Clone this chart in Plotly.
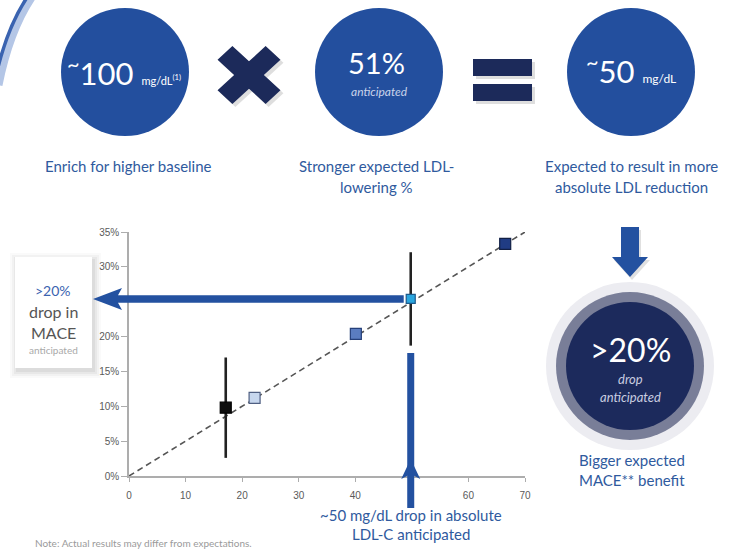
import plotly.graph_objects as go

# ---- data -------------------------------------------------------------
ldl_drop = [17.1, 22.2, 40.1, 49.8, 66.5]          # absolute LDL-C drop, mg/dL
mace_reduction = [9.8, 11.2, 20.4, 25.4, 33.3]     # MACE reduction, %
ci_half = [7.2, 0, 0, 6.7, 0]                      # +/- interval, %
trend_x = [0, 70]
trend_y = [0, 35]
x_ticks = [0, 10, 20, 30, 40, 50, 60, 70]
x_tick_text = ["0", "10", "20", "30", "40", "", "60", "70"]
y_ticks = [0, 5, 10, 15, 20, 30, 35]
y_tick_text = [f"{v}%" for v in y_ticks]

# ---- styling ----------------------------------------------------------
W, H = 739, 549
L, R, T, B = 129, 525, 232, 476       # plot area in pixels
ROYAL = "#234f9e"
NAVY = "#1c2a5a"
TEXT_BLUE = "#2f5a9e"
ARROW = "#2351a0"
FONT = "Lato"

marker_fill = ["#0e0e0e", "#c7d7ee", "#5b7dc1", "#2aa6de", "#203c84"]
marker_line = ["#000000", "#4f5f82", "#26407a", "#1d5a8c", "#111f45"]
marker_size = [11, 11, 11, 9, 11]


def fx(p):
    return (p - L) / (R - L)


def fy(p):
    return (B - p) / (B - T)


def path(points):
    s = "M " + " L ".join(f"{fx(x):.5f},{fy(y):.5f}" for x, y in points)
    return s + " Z"


shapes = []


def circle(cx, cy, r, color, layer="above"):
    shapes.append(dict(type="circle", xref="paper", yref="paper",
                       x0=fx(cx - r), x1=fx(cx + r), y0=fy(cy + r), y1=fy(cy - r),
                       fillcolor=color, line=dict(width=0), layer=layer))


def poly(points, color, layer="above"):
    shapes.append(dict(type="path", xref="paper", yref="paper", path=path(points),
                       fillcolor=color, line=dict(width=0), layer=layer))


def rect(x0, y0, x1, y1, color, layer="above"):
    shapes.append(dict(type="rect", xref="paper", yref="paper",
                       x0=fx(x0), x1=fx(x1), y0=fy(y1), y1=fy(y0),
                       fillcolor=color, line=dict(width=0), layer=layer))


# decorative arc in the top-left corner
for width, col, dx in [(9, "#b4c6e6", 1), (3.5, "#3a63b0", -3)]:
    shapes.append(dict(type="path", xref="paper", yref="paper",
                       path=f"M {fx(31 + dx):.5f},{fy(-4):.5f} Q {fx(8 + dx):.5f},{fy(30):.5f} {fx(-3 + dx):.5f},{fy(85):.5f}",
                       line=dict(color=col, width=width), layer="above"))

# three top circles
for cx in (125, 379, 631):
    circle(cx, 72, 64, ROYAL)

# multiplication sign
cx, cy, a, t = 249, 75, 34, 10.5
plus = [(t, a), (t, t), (a, t), (a, -t), (t, -t), (t, -a), (-t, -a), (-t, -t),
        (-a, -t), (-a, t), (-t, t), (-t, a)]
k = 0.7071
xpts = [(cx + (x - y) * k, cy + (x + y) * k * 0.92) for x, y in plus]
poly([(x + 3, y + 3) for x, y in xpts], "rgba(0,0,0,0.13)")
poly(xpts, NAVY)

# equals sign
for y0, y1 in [(59, 76), (84, 101)]:
    rect(476, y0 + 3, 535, y1 + 3, "rgba(0,0,0,0.13)")
    rect(473, y0, 532, y1, NAVY)

# down arrow on the right
down = [(621, 227), (639, 227), (639, 257), (648, 257), (630, 277), (612, 257), (621, 257)]
poly([(x + 2, y + 3) for x, y in down], "rgba(0,0,0,0.12)")
poly(down, ARROW)

# result badge
circle(630, 366, 84, "#ececf1")
circle(630, 366, 74, "#797e98")
circle(630, 366, 64, "#1c2a5c")

# callout box with soft shadow
for grow, alpha in [(7, 0.02), (5, 0.03), (3, 0.04), (1, 0.05)]:
    rect(15 - grow + 2, 257 - grow + 3, 92 + grow + 2, 368 + grow + 3, f"rgba(0,0,0,{alpha})")
rect(15, 257, 92, 368, "#ffffff")

# horizontal arrow from the highlighted point to the callout
ay = B - mace_reduction[3] * (B - T) / trend_y[1]
ax = L + ldl_drop[3] * (R - L) / trend_x[1]
poly([(ax - 7, ay - 3.8), (118, ay - 3.8), (122, ay - 11), (93, ay), (122, ay + 11),
      (118, ay + 3.8), (ax - 7, ay + 3.8)], ARROW)

# vertical arrow pointing up at the highlighted x value
poly([(ax - 3.5, 353), (ax + 3.5, 353), (ax + 3.5, 508), (ax - 3.5, 508)], ARROW)
poly([(ax, 459), (ax + 9.5, 479), (ax, 474), (ax - 9.5, 479)], ARROW)

# ---- traces ------------------------------------------------------------
fig = go.Figure()
fig.add_trace(go.Scatter(
    x=trend_x, y=trend_y, mode="lines",
    line=dict(color="#555555", width=1.6, dash="6px,4px"),
    hoverinfo="skip"))
fig.add_trace(go.Scatter(
    x=ldl_drop, y=mace_reduction, mode="markers",
    marker=dict(symbol="square", size=marker_size, color=marker_fill, opacity=1,
                line=dict(color=marker_line, width=1.2)),
    error_y=dict(type="data", array=ci_half, symmetric=True, width=0,
                 thickness=2.6, color="#222222"),
    hoverinfo="skip"))

# ---- text --------------------------------------------------------------
ann = []


def text(x, y, s, size, color, **kw):
    ann.append(dict(x=fx(x), y=fy(y), xref="paper", yref="paper", text=s,
                    showarrow=False, xanchor=kw.get("xanchor", "center"),
                    yanchor="middle", align=kw.get("align", "center"),
                    font=dict(family=FONT, size=size, color=color)))


text(124, 72, "<sup>~</sup>100 <span style='font-size:11px'>mg/dL<sup>(1)</sup></span>", 31, "#ffffff")
text(376, 62, "51%", 29, "#ffffff")
text(379, 91, "<i>anticipated</i>", 12, "#c9d3ea")
text(631, 69, "<sup>~</sup>50 <span style='font-size:12px'>mg/dL</span>", 31, "#ffffff")

text(128, 166, "Enrich for higher baseline", 15, TEXT_BLUE)
text(376, 166, "Stronger expected LDL-", 15, TEXT_BLUE)
text(376, 187, "lowering %", 15, TEXT_BLUE)
text(631, 166, "Expected to result in more", 15, TEXT_BLUE)
text(631, 187, "absolute LDL reduction", 15, TEXT_BLUE)

text(630, 349, "&gt;20%", 32, "#ffffff")
text(630, 379, "<i>drop</i>", 13, "#c9cde0")
text(630, 397, "<i>anticipated</i>", 13, "#c9cde0")
text(632, 460, "Bigger expected", 15, TEXT_BLUE)
text(632, 480, "MACE** benefit", 15, TEXT_BLUE)

text(53, 290, "&gt;20%", 14, "#3a63b0")
text(53, 311, "drop in", 16, "#555555")
text(53, 332, "MACE", 16, "#555555")
text(53, 350, "anticipated", 10, "#a9a9a9")

text(411, 515, "~50 mg/dL drop in absolute", 15, TEXT_BLUE)
text(411, 534, "LDL-C anticipated", 15, TEXT_BLUE)

text(33, 543, "Note: Actual results may differ from expectations.", 10, "#9a9a9a", xanchor="left")

axis_common = dict(showgrid=False, zeroline=False, showline=True, linecolor="#adadad",
                   linewidth=1.5, ticks="outside", tickcolor="#adadad", tickwidth=1.2,
                   tickfont=dict(family="Arial", size=10, color="#5a5a5a"),
                   fixedrange=True, automargin=False)

fig.update_layout(
    width=W, height=H,
    margin=dict(l=L, r=W - R, t=T, b=H - B, pad=0),
    paper_bgcolor="#ffffff", plot_bgcolor="rgba(0,0,0,0)",
    showlegend=False,
    xaxis=dict(range=[trend_x[0], trend_x[1]], tickvals=x_ticks, ticktext=x_tick_text,
               ticklen=4, ticklabelstandoff=5, **axis_common),
    yaxis=dict(range=[trend_y[0], trend_y[1]], tickvals=y_ticks, ticktext=y_tick_text,
               ticklen=6, **axis_common),
    shapes=shapes, annotations=ann,
)

fig.write_html("out.html", config={"displayModeBar": False})
